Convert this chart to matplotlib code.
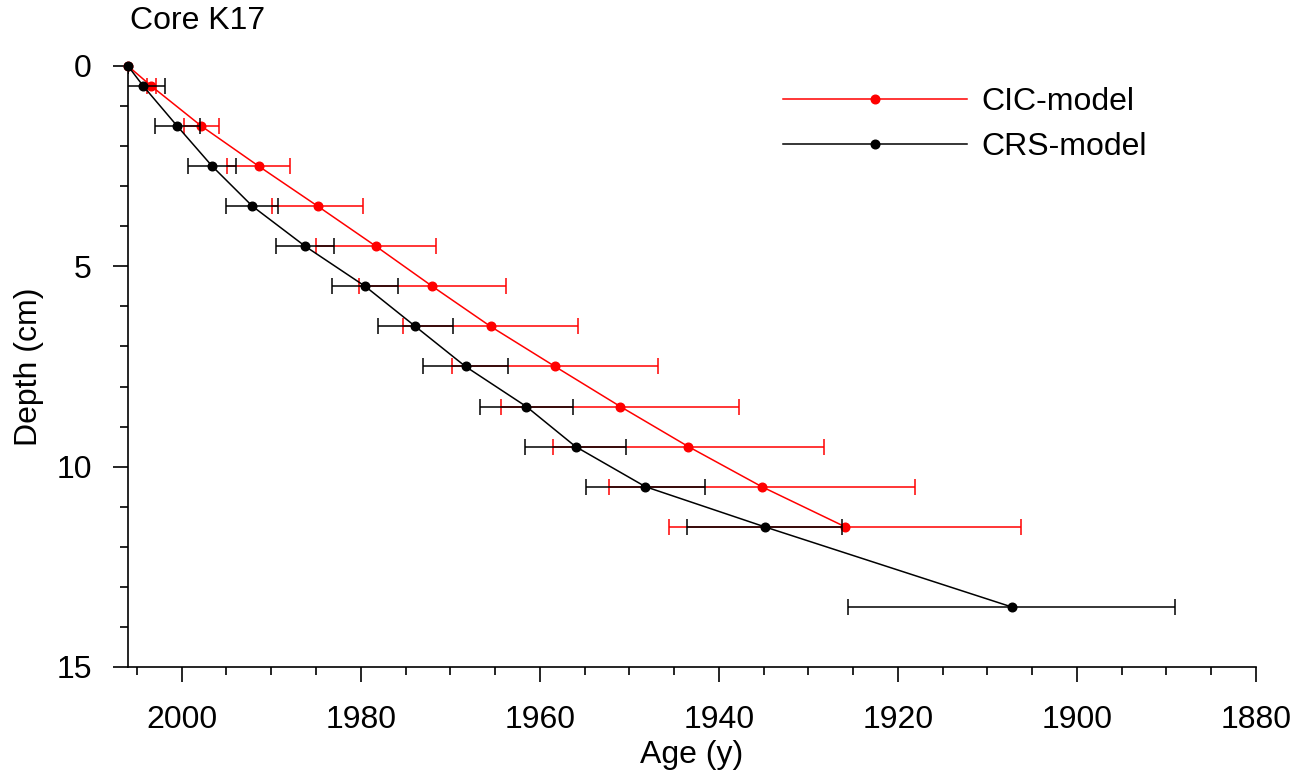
import matplotlib
matplotlib.use('Agg')
import matplotlib.pyplot as plt
from matplotlib.ticker import MultipleLocator

plt.rcParams['font.family'] = ['Liberation Sans', 'DejaVu Sans']

# Data
depth_cic = [0, 0.5, 1.5, 2.5, 3.5, 4.5, 5.5, 6.5, 7.5, 8.5, 9.5, 10.5, 11.5]
age_cic   = [2006, 2003.4, 1997.8, 1991.4, 1984.8, 1978.3, 1972.0, 1965.5,
             1958.3, 1951.0, 1943.4, 1935.2, 1925.9]
err_cic   = [0, 0.5, 2.0, 3.5, 5.1, 6.7, 8.2, 9.8, 11.5, 13.3, 15.1, 17.1, 19.7]

depth_crs = [0, 0.5, 1.5, 2.5, 3.5, 4.5, 5.5, 6.5, 7.5, 8.5, 9.5, 10.5, 11.5, 13.5]
age_crs   = [2006, 2004.3, 2000.5, 1996.6, 1992.1, 1986.2, 1979.5, 1973.9,
             1968.3, 1961.5, 1956.0, 1948.2, 1934.9, 1907.3]
err_crs   = [0, 2.4, 2.5, 2.65, 2.9, 3.25, 3.7, 4.15, 4.7, 5.2, 5.6, 6.6, 8.65, 18.3]

FS = 23
RED = '#ff0000'

fig = plt.figure(figsize=(13.12, 7.8), dpi=100)
ax = fig.add_axes([128/1312, 1 - 667/780, 1128/1312, 601/780])

ax.errorbar(age_cic, depth_cic, xerr=err_cic, fmt='none', ecolor=RED,
            elinewidth=1.1, capsize=5.5, capthick=1.1, zorder=2)
l_cic, = ax.plot(age_cic, depth_cic, '-o', color=RED, lw=1.1, ms=6.2,
                 zorder=3, clip_on=False)
ax.errorbar(age_crs, depth_crs, xerr=err_crs, fmt='none', ecolor='black',
            elinewidth=1.1, capsize=5.5, capthick=1.1, zorder=4)
l_crs, = ax.plot(age_crs, depth_crs, '-o', color='black', lw=1.1, ms=6.2,
                 zorder=5, clip_on=False)

ax.set_xlim(2006, 1880)
ax.set_ylim(15, 0)
ax.xaxis.set_major_locator(MultipleLocator(20))
ax.xaxis.set_minor_locator(MultipleLocator(5))
ax.yaxis.set_major_locator(MultipleLocator(5))
ax.yaxis.set_minor_locator(MultipleLocator(1))

for s in ['top', 'right']:
    ax.spines[s].set_visible(False)
for s in ['left', 'bottom']:
    ax.spines[s].set_linewidth(1.2)

ax.tick_params(which='major', length=11, width=1.2, labelsize=FS, direction='out')
ax.tick_params(which='minor', length=5.5, width=1.2, direction='out')
ax.tick_params(axis='x', which='major', pad=16)
ax.tick_params(axis='y', which='major', pad=15)

ax.set_xlabel('Age (y)', fontsize=FS, labelpad=4)
ax.set_ylabel('Depth (cm)', fontsize=FS, labelpad=9)

fig.text(130/1312, 1 - 21/780, 'Core K17', fontsize=FS, ha='left', va='center')

ax.legend([l_cic, l_crs], ['CIC-model', 'CRS-model'], loc='upper left',
          bbox_to_anchor=(783/1312, 1 - 87/780), bbox_transform=fig.transFigure,
          frameon=False, fontsize=FS, numpoints=1, handlelength=5.75,
          handletextpad=0.45, labelspacing=0.48, borderpad=0, borderaxespad=0)

fig.savefig('out.png', dpi=100)
